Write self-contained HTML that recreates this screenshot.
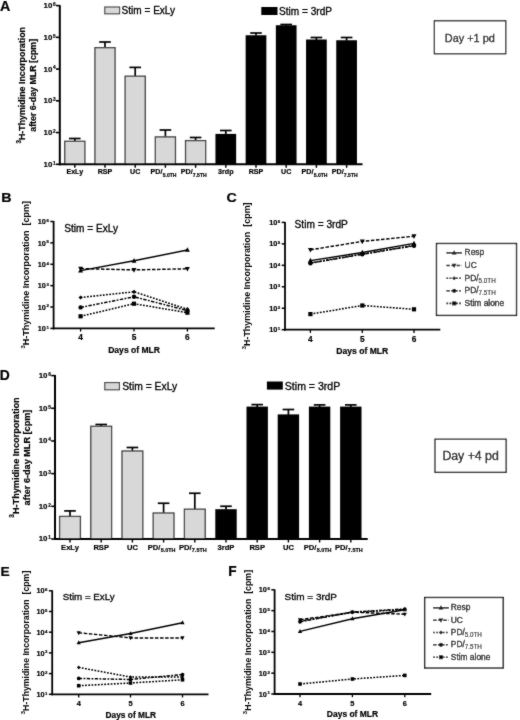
<!DOCTYPE html><html><head><meta charset="utf-8"><style>html,body{margin:0;padding:0;background:#fff;}svg{display:block;filter:grayscale(1);}text{font-family:"Liberation Sans",sans-serif;}</style></head><body>
<svg width="520" height="720" viewBox="0 0 520 720">
<defs><filter id="bl" x="0" y="0" width="520" height="720" filterUnits="userSpaceOnUse"><feConvolveMatrix order="3" kernelMatrix="1 2 1 2 24 2 1 2 1" edgeMode="duplicate"/></filter></defs>
<rect width="520" height="720" fill="#fff"/>
<g filter="url(#bl)">
<text x="0.1" y="10.8" font-size="14.8" font-weight="bold" stroke="#000" stroke-width="0.2" textLength="10.3" lengthAdjust="spacingAndGlyphs" fill="#000">A</text>
<line x1="59.8" y1="5.1" x2="59.8" y2="165.3" stroke="#000" stroke-width="2"/>
<line x1="56" y1="164.3" x2="59.8" y2="164.3" stroke="#000" stroke-width="1.6"/>
<text x="52.3" y="166.75" font-size="7.9" font-weight="bold" stroke="#000" stroke-width="0.2" text-anchor="end" fill="#000">10</text>
<text x="55.7" y="164.7" font-size="4.74" font-weight="bold" stroke="#000" stroke-width="0.2" text-anchor="end" fill="#000">1</text>
<line x1="56" y1="132.56" x2="59.8" y2="132.56" stroke="#000" stroke-width="1.6"/>
<text x="52.3" y="135.01" font-size="7.9" font-weight="bold" stroke="#000" stroke-width="0.2" text-anchor="end" fill="#000">10</text>
<text x="55.7" y="132.96" font-size="4.74" font-weight="bold" stroke="#000" stroke-width="0.2" text-anchor="end" fill="#000">2</text>
<line x1="56" y1="100.82" x2="59.8" y2="100.82" stroke="#000" stroke-width="1.6"/>
<text x="52.3" y="103.27" font-size="7.9" font-weight="bold" stroke="#000" stroke-width="0.2" text-anchor="end" fill="#000">10</text>
<text x="55.7" y="101.22" font-size="4.74" font-weight="bold" stroke="#000" stroke-width="0.2" text-anchor="end" fill="#000">3</text>
<line x1="56" y1="69.08" x2="59.8" y2="69.08" stroke="#000" stroke-width="1.6"/>
<text x="52.3" y="71.53" font-size="7.9" font-weight="bold" stroke="#000" stroke-width="0.2" text-anchor="end" fill="#000">10</text>
<text x="55.7" y="69.48" font-size="4.74" font-weight="bold" stroke="#000" stroke-width="0.2" text-anchor="end" fill="#000">4</text>
<line x1="56" y1="37.34" x2="59.8" y2="37.34" stroke="#000" stroke-width="1.6"/>
<text x="52.3" y="39.79" font-size="7.9" font-weight="bold" stroke="#000" stroke-width="0.2" text-anchor="end" fill="#000">10</text>
<text x="55.7" y="37.74" font-size="4.74" font-weight="bold" stroke="#000" stroke-width="0.2" text-anchor="end" fill="#000">5</text>
<line x1="56" y1="5.6" x2="59.8" y2="5.6" stroke="#000" stroke-width="1.6"/>
<text x="52.3" y="8.05" font-size="7.9" font-weight="bold" stroke="#000" stroke-width="0.2" text-anchor="end" fill="#000">10</text>
<text x="55.7" y="6" font-size="4.74" font-weight="bold" stroke="#000" stroke-width="0.2" text-anchor="end" fill="#000">6</text>
<line x1="74.8" y1="141.3" x2="74.8" y2="138.5" stroke="#000" stroke-width="1.7"/>
<line x1="69" y1="138.5" x2="80.6" y2="138.5" stroke="#000" stroke-width="1.7"/>
<rect x="64.75" y="141.3" width="20.1" height="23" fill="#d8d8d8" stroke="#3a3a3a" stroke-width="1.3"/>
<line x1="74.8" y1="164.3" x2="74.8" y2="167.8" stroke="#000" stroke-width="1.4"/>
<line x1="105" y1="47.7" x2="105" y2="42" stroke="#000" stroke-width="1.7"/>
<line x1="99.2" y1="42" x2="110.8" y2="42" stroke="#000" stroke-width="1.7"/>
<rect x="94.95" y="47.7" width="20.1" height="116.6" fill="#d8d8d8" stroke="#3a3a3a" stroke-width="1.3"/>
<line x1="105" y1="164.3" x2="105" y2="167.8" stroke="#000" stroke-width="1.4"/>
<line x1="135.2" y1="76.2" x2="135.2" y2="67.4" stroke="#000" stroke-width="1.7"/>
<line x1="129.4" y1="67.4" x2="141" y2="67.4" stroke="#000" stroke-width="1.7"/>
<rect x="125.15" y="76.2" width="20.1" height="88.1" fill="#d8d8d8" stroke="#3a3a3a" stroke-width="1.3"/>
<line x1="135.2" y1="164.3" x2="135.2" y2="167.8" stroke="#000" stroke-width="1.4"/>
<line x1="165.4" y1="136.9" x2="165.4" y2="130" stroke="#000" stroke-width="1.7"/>
<line x1="159.6" y1="130" x2="171.2" y2="130" stroke="#000" stroke-width="1.7"/>
<rect x="155.35" y="136.9" width="20.1" height="27.4" fill="#d8d8d8" stroke="#3a3a3a" stroke-width="1.3"/>
<line x1="165.4" y1="164.3" x2="165.4" y2="167.8" stroke="#000" stroke-width="1.4"/>
<line x1="195.6" y1="140.6" x2="195.6" y2="137.5" stroke="#000" stroke-width="1.7"/>
<line x1="189.8" y1="137.5" x2="201.4" y2="137.5" stroke="#000" stroke-width="1.7"/>
<rect x="185.55" y="140.6" width="20.1" height="23.7" fill="#d8d8d8" stroke="#3a3a3a" stroke-width="1.3"/>
<line x1="195.6" y1="164.3" x2="195.6" y2="167.8" stroke="#000" stroke-width="1.4"/>
<line x1="225.8" y1="134.4" x2="225.8" y2="130.5" stroke="#000" stroke-width="1.7"/>
<line x1="220" y1="130.5" x2="231.6" y2="130.5" stroke="#000" stroke-width="1.7"/>
<rect x="215.45" y="133.9" width="20.7" height="30.4" fill="#000"/>
<line x1="225.8" y1="164.3" x2="225.8" y2="167.8" stroke="#000" stroke-width="1.4"/>
<line x1="256" y1="35.75" x2="256" y2="33" stroke="#000" stroke-width="1.7"/>
<line x1="250.2" y1="33" x2="261.8" y2="33" stroke="#000" stroke-width="1.7"/>
<rect x="245.65" y="35.25" width="20.7" height="129.05" fill="#000"/>
<line x1="256" y1="164.3" x2="256" y2="167.8" stroke="#000" stroke-width="1.4"/>
<line x1="286.2" y1="25.75" x2="286.2" y2="24.5" stroke="#000" stroke-width="1.7"/>
<line x1="280.4" y1="24.5" x2="292" y2="24.5" stroke="#000" stroke-width="1.7"/>
<rect x="275.85" y="25.25" width="20.7" height="139.05" fill="#000"/>
<line x1="286.2" y1="164.3" x2="286.2" y2="167.8" stroke="#000" stroke-width="1.4"/>
<line x1="316.4" y1="40" x2="316.4" y2="37.5" stroke="#000" stroke-width="1.7"/>
<line x1="310.6" y1="37.5" x2="322.2" y2="37.5" stroke="#000" stroke-width="1.7"/>
<rect x="306.05" y="39.5" width="20.7" height="124.8" fill="#000"/>
<line x1="316.4" y1="164.3" x2="316.4" y2="167.8" stroke="#000" stroke-width="1.4"/>
<line x1="346.6" y1="40.75" x2="346.6" y2="37.5" stroke="#000" stroke-width="1.7"/>
<line x1="340.8" y1="37.5" x2="352.4" y2="37.5" stroke="#000" stroke-width="1.7"/>
<rect x="336.25" y="40.25" width="20.7" height="124.05" fill="#000"/>
<line x1="346.6" y1="164.3" x2="346.6" y2="167.8" stroke="#000" stroke-width="1.4"/>
<line x1="58.8" y1="164.3" x2="362.5" y2="164.3" stroke="#000" stroke-width="2"/>
<text x="74.8" y="174.3" font-size="7.1" font-weight="bold" stroke="#000" stroke-width="0.2" text-anchor="middle" fill="#000">ExLy</text>
<text x="105" y="174.3" font-size="7.1" font-weight="bold" stroke="#000" stroke-width="0.2" text-anchor="middle" fill="#000">RSP</text>
<text x="135.2" y="174.3" font-size="7.1" font-weight="bold" stroke="#000" stroke-width="0.2" text-anchor="middle" fill="#000">UC</text>
<text x="150.59" y="174.3" font-size="7.1" font-weight="bold" stroke="#000" stroke-width="0.2" fill="#000">PD/</text>
<text x="162.66" y="176.63" font-size="5.07" font-weight="bold" stroke="#000" stroke-width="0.2" fill="#000">5.0TH</text>
<text x="180.79" y="174.3" font-size="7.1" font-weight="bold" stroke="#000" stroke-width="0.2" fill="#000">PD/</text>
<text x="192.86" y="176.63" font-size="5.07" font-weight="bold" stroke="#000" stroke-width="0.2" fill="#000">7.5TH</text>
<text x="225.8" y="174.3" font-size="7.1" font-weight="bold" stroke="#000" stroke-width="0.2" text-anchor="middle" fill="#000">3rdp</text>
<text x="256" y="174.3" font-size="7.1" font-weight="bold" stroke="#000" stroke-width="0.2" text-anchor="middle" fill="#000">RSP</text>
<text x="286.2" y="174.3" font-size="7.1" font-weight="bold" stroke="#000" stroke-width="0.2" text-anchor="middle" fill="#000">UC</text>
<text x="301.59" y="174.3" font-size="7.1" font-weight="bold" stroke="#000" stroke-width="0.2" fill="#000">PD/</text>
<text x="313.66" y="176.63" font-size="5.07" font-weight="bold" stroke="#000" stroke-width="0.2" fill="#000">5.0TH</text>
<text x="331.79" y="174.3" font-size="7.1" font-weight="bold" stroke="#000" stroke-width="0.2" fill="#000">PD/</text>
<text x="343.86" y="176.63" font-size="5.07" font-weight="bold" stroke="#000" stroke-width="0.2" fill="#000">7.5TH</text>
<rect x="104.8" y="7" width="14.8" height="6.8" fill="#d8d8d8" stroke="#3a3a3a" stroke-width="1.1"/>
<text x="121.6" y="14.1" font-size="10" stroke="#000" stroke-width="0.3" textLength="53.5" lengthAdjust="spacingAndGlyphs" fill="#000">Stim = ExLy</text>
<rect x="261.3" y="7" width="16.2" height="8" fill="#000"/>
<text x="279" y="14.6" font-size="10" stroke="#000" stroke-width="0.3" textLength="53" lengthAdjust="spacingAndGlyphs" fill="#000">Stim = 3rdP</text>
<text transform="translate(25.3,143.6) rotate(-90)" font-size="9" font-weight="bold" stroke="#000" stroke-width="0.2" textLength="116.6" lengthAdjust="spacingAndGlyphs"><tspan font-size="6.4" dy="-4.4">3</tspan><tspan dy="4.4">H-Thymidine Incorporation</tspan></text>
<text transform="translate(35.6,131.8) rotate(-90)" font-size="9" font-weight="bold" stroke="#000" stroke-width="0.2" textLength="93" lengthAdjust="spacingAndGlyphs">after 6-day MLR [cpm]</text>
<rect x="434.4" y="20.8" width="71.3" height="32.9" fill="#fff" stroke="#111" stroke-width="1.25"/>
<text x="444.8" y="41.5" font-size="11.2" stroke="#000" stroke-width="0.3" textLength="50" lengthAdjust="spacingAndGlyphs" fill="#000">Day +1 pd</text>
<text x="1.2" y="201.8" font-size="13.7" font-weight="bold" stroke="#000" stroke-width="0.2" textLength="10.3" lengthAdjust="spacingAndGlyphs" fill="#000">B</text>
<line x1="53.6" y1="221" x2="53.6" y2="329.4" stroke="#000" stroke-width="1.8"/>
<line x1="52.7" y1="328.4" x2="214.7" y2="328.4" stroke="#000" stroke-width="1.8"/>
<line x1="50.3" y1="328.4" x2="53.6" y2="328.4" stroke="#000" stroke-width="1.5"/>
<text x="45.9" y="331.03" font-size="7.3" font-weight="bold" stroke="#000" stroke-width="0.2" text-anchor="end" fill="#000">10</text>
<text x="48.9" y="328.8" font-size="4.38" font-weight="bold" stroke="#000" stroke-width="0.2" text-anchor="end" fill="#000">1</text>
<line x1="50.3" y1="307.02" x2="53.6" y2="307.02" stroke="#000" stroke-width="1.5"/>
<text x="45.9" y="309.65" font-size="7.3" font-weight="bold" stroke="#000" stroke-width="0.2" text-anchor="end" fill="#000">10</text>
<text x="48.9" y="307.42" font-size="4.38" font-weight="bold" stroke="#000" stroke-width="0.2" text-anchor="end" fill="#000">2</text>
<line x1="50.3" y1="285.64" x2="53.6" y2="285.64" stroke="#000" stroke-width="1.5"/>
<text x="45.9" y="288.27" font-size="7.3" font-weight="bold" stroke="#000" stroke-width="0.2" text-anchor="end" fill="#000">10</text>
<text x="48.9" y="286.04" font-size="4.38" font-weight="bold" stroke="#000" stroke-width="0.2" text-anchor="end" fill="#000">3</text>
<line x1="50.3" y1="264.26" x2="53.6" y2="264.26" stroke="#000" stroke-width="1.5"/>
<text x="45.9" y="266.89" font-size="7.3" font-weight="bold" stroke="#000" stroke-width="0.2" text-anchor="end" fill="#000">10</text>
<text x="48.9" y="264.66" font-size="4.38" font-weight="bold" stroke="#000" stroke-width="0.2" text-anchor="end" fill="#000">4</text>
<line x1="50.3" y1="242.88" x2="53.6" y2="242.88" stroke="#000" stroke-width="1.5"/>
<text x="45.9" y="245.51" font-size="7.3" font-weight="bold" stroke="#000" stroke-width="0.2" text-anchor="end" fill="#000">10</text>
<text x="48.9" y="243.28" font-size="4.38" font-weight="bold" stroke="#000" stroke-width="0.2" text-anchor="end" fill="#000">5</text>
<line x1="50.3" y1="221.5" x2="53.6" y2="221.5" stroke="#000" stroke-width="1.5"/>
<text x="45.9" y="224.13" font-size="7.3" font-weight="bold" stroke="#000" stroke-width="0.2" text-anchor="end" fill="#000">10</text>
<text x="48.9" y="221.9" font-size="4.38" font-weight="bold" stroke="#000" stroke-width="0.2" text-anchor="end" fill="#000">6</text>
<line x1="80.6" y1="328.4" x2="80.6" y2="331.6" stroke="#000" stroke-width="1.3"/>
<text x="80.6" y="339.7" font-size="8.3" font-weight="bold" stroke="#000" stroke-width="0.2" text-anchor="middle" fill="#000">4</text>
<line x1="134" y1="328.4" x2="134" y2="331.6" stroke="#000" stroke-width="1.3"/>
<text x="134" y="339.7" font-size="8.3" font-weight="bold" stroke="#000" stroke-width="0.2" text-anchor="middle" fill="#000">5</text>
<line x1="187.4" y1="328.4" x2="187.4" y2="331.6" stroke="#000" stroke-width="1.3"/>
<text x="187.4" y="339.7" font-size="8.3" font-weight="bold" stroke="#000" stroke-width="0.2" text-anchor="middle" fill="#000">6</text>
<text x="134.1" y="352.8" font-size="8.6" font-weight="bold" stroke="#000" stroke-width="0.2" text-anchor="middle" textLength="51.8" lengthAdjust="spacingAndGlyphs" fill="#000">Days of MLR</text>
<polyline points="80.6,270.6 134,260.8 187.4,250" fill="none" stroke="#000" stroke-width="1.45"/>
<polyline points="80.6,268.6 134,269.9 187.4,268.8" fill="none" stroke="#000" stroke-width="1.45" stroke-dasharray="3.5,1.6"/>
<polyline points="80.6,297.5 134,291.8 187.4,309.2" fill="none" stroke="#000" stroke-width="1.55" stroke-dasharray="1.8,1.4"/>
<polyline points="80.6,307.4 134,296.8 187.4,310.6" fill="none" stroke="#000" stroke-width="1.5" stroke-dasharray="3.4,1.4,1.8,1.4"/>
<polyline points="80.6,316.3 134,303.7 187.4,312.7" fill="none" stroke="#000" stroke-width="1.55" stroke-dasharray="1.8,1.4"/>
<rect x="78.5" y="314.2" width="4.2" height="4.2" fill="#000"/>
<rect x="131.9" y="301.6" width="4.2" height="4.2" fill="#000"/>
<rect x="185.3" y="310.6" width="4.2" height="4.2" fill="#000"/>
<circle cx="80.6" cy="307.4" r="2.2" fill="#000"/>
<circle cx="134" cy="296.8" r="2.2" fill="#000"/>
<circle cx="187.4" cy="310.6" r="2.2" fill="#000"/>
<polygon points="80.6,295.4 82.7,297.5 80.6,299.6 78.5,297.5" fill="#000"/>
<polygon points="134,289.7 136.1,291.8 134,293.9 131.9,291.8" fill="#000"/>
<polygon points="187.4,307.1 189.5,309.2 187.4,311.3 185.3,309.2" fill="#000"/>
<polygon points="80.6,271.36 83.05,266.76 78.15,266.76" fill="#000"/>
<polygon points="134,272.66 136.45,268.06 131.55,268.06" fill="#000"/>
<polygon points="187.4,271.56 189.85,266.96 184.95,266.96" fill="#000"/>
<polygon points="80.6,267.84 83.05,272.44 78.15,272.44" fill="#000"/>
<polygon points="134,258.04 136.45,262.64 131.55,262.64" fill="#000"/>
<polygon points="187.4,247.24 189.85,251.84 184.95,251.84" fill="#000"/>
<text x="64.2" y="231.6" font-size="10" stroke="#000" stroke-width="0.3" textLength="53.8" lengthAdjust="spacingAndGlyphs" fill="#000">Stim = ExLy</text>
<text transform="translate(29.3,348.8) rotate(-90)" font-size="8.4" font-weight="bold" textLength="147.8" lengthAdjust="spacingAndGlyphs"><tspan font-size="6.0" dy="-4.0">3</tspan><tspan dy="4.0">H-Thymidine Incorporation&#160; [cpm]</tspan></text>
<text x="226.6" y="202.2" font-size="13.7" font-weight="bold" stroke="#000" stroke-width="0.2" textLength="10.3" lengthAdjust="spacingAndGlyphs" fill="#000">C</text>
<line x1="285" y1="221.9" x2="285" y2="330.7" stroke="#000" stroke-width="1.8"/>
<line x1="284.1" y1="329.7" x2="440.3" y2="329.7" stroke="#000" stroke-width="1.8"/>
<line x1="281.7" y1="329.7" x2="285" y2="329.7" stroke="#000" stroke-width="1.5"/>
<text x="277.3" y="332.33" font-size="7.3" font-weight="bold" stroke="#000" stroke-width="0.2" text-anchor="end" fill="#000">10</text>
<text x="280.3" y="330.1" font-size="4.38" font-weight="bold" stroke="#000" stroke-width="0.2" text-anchor="end" fill="#000">1</text>
<line x1="281.7" y1="308.24" x2="285" y2="308.24" stroke="#000" stroke-width="1.5"/>
<text x="277.3" y="310.87" font-size="7.3" font-weight="bold" stroke="#000" stroke-width="0.2" text-anchor="end" fill="#000">10</text>
<text x="280.3" y="308.64" font-size="4.38" font-weight="bold" stroke="#000" stroke-width="0.2" text-anchor="end" fill="#000">2</text>
<line x1="281.7" y1="286.78" x2="285" y2="286.78" stroke="#000" stroke-width="1.5"/>
<text x="277.3" y="289.41" font-size="7.3" font-weight="bold" stroke="#000" stroke-width="0.2" text-anchor="end" fill="#000">10</text>
<text x="280.3" y="287.18" font-size="4.38" font-weight="bold" stroke="#000" stroke-width="0.2" text-anchor="end" fill="#000">3</text>
<line x1="281.7" y1="265.32" x2="285" y2="265.32" stroke="#000" stroke-width="1.5"/>
<text x="277.3" y="267.95" font-size="7.3" font-weight="bold" stroke="#000" stroke-width="0.2" text-anchor="end" fill="#000">10</text>
<text x="280.3" y="265.72" font-size="4.38" font-weight="bold" stroke="#000" stroke-width="0.2" text-anchor="end" fill="#000">4</text>
<line x1="281.7" y1="243.86" x2="285" y2="243.86" stroke="#000" stroke-width="1.5"/>
<text x="277.3" y="246.49" font-size="7.3" font-weight="bold" stroke="#000" stroke-width="0.2" text-anchor="end" fill="#000">10</text>
<text x="280.3" y="244.26" font-size="4.38" font-weight="bold" stroke="#000" stroke-width="0.2" text-anchor="end" fill="#000">5</text>
<line x1="281.7" y1="222.4" x2="285" y2="222.4" stroke="#000" stroke-width="1.5"/>
<text x="277.3" y="225.03" font-size="7.3" font-weight="bold" stroke="#000" stroke-width="0.2" text-anchor="end" fill="#000">10</text>
<text x="280.3" y="222.8" font-size="4.38" font-weight="bold" stroke="#000" stroke-width="0.2" text-anchor="end" fill="#000">6</text>
<line x1="310.4" y1="329.7" x2="310.4" y2="332.9" stroke="#000" stroke-width="1.3"/>
<text x="310.4" y="341.5" font-size="8.3" font-weight="bold" stroke="#000" stroke-width="0.2" text-anchor="middle" fill="#000">4</text>
<line x1="362.3" y1="329.7" x2="362.3" y2="332.9" stroke="#000" stroke-width="1.3"/>
<text x="362.3" y="341.5" font-size="8.3" font-weight="bold" stroke="#000" stroke-width="0.2" text-anchor="middle" fill="#000">5</text>
<line x1="414" y1="329.7" x2="414" y2="332.9" stroke="#000" stroke-width="1.3"/>
<text x="414" y="341.5" font-size="8.3" font-weight="bold" stroke="#000" stroke-width="0.2" text-anchor="middle" fill="#000">6</text>
<text x="362.3" y="354" font-size="8.6" font-weight="bold" stroke="#000" stroke-width="0.2" text-anchor="middle" fill="#000">Days of MLR</text>
<polyline points="310.4,260.6 362.3,252.5 414,243.4" fill="none" stroke="#000" stroke-width="1.45"/>
<polyline points="310.4,249.8 362.3,241.4 414,236.2" fill="none" stroke="#000" stroke-width="1.45" stroke-dasharray="3.5,1.6"/>
<polyline points="310.4,262.8 362.3,254 414,245.4" fill="none" stroke="#000" stroke-width="1.55" stroke-dasharray="1.8,1.4"/>
<polyline points="310.4,263.2 362.3,254.3 414,245.8" fill="none" stroke="#000" stroke-width="1.5" stroke-dasharray="3.4,1.4,1.8,1.4"/>
<polyline points="310.4,314.1 362.3,305.5 414,309.3" fill="none" stroke="#000" stroke-width="1.55" stroke-dasharray="1.8,1.4"/>
<rect x="308.3" y="312" width="4.2" height="4.2" fill="#000"/>
<rect x="360.2" y="303.4" width="4.2" height="4.2" fill="#000"/>
<rect x="411.9" y="307.2" width="4.2" height="4.2" fill="#000"/>
<circle cx="310.4" cy="263.2" r="2.2" fill="#000"/>
<circle cx="362.3" cy="254.3" r="2.2" fill="#000"/>
<circle cx="414" cy="245.8" r="2.2" fill="#000"/>
<polygon points="310.4,260.7 312.5,262.8 310.4,264.9 308.3,262.8" fill="#000"/>
<polygon points="362.3,251.9 364.4,254 362.3,256.1 360.2,254" fill="#000"/>
<polygon points="414,243.3 416.1,245.4 414,247.5 411.9,245.4" fill="#000"/>
<polygon points="310.4,252.56 312.85,247.96 307.95,247.96" fill="#000"/>
<polygon points="362.3,244.16 364.75,239.56 359.85,239.56" fill="#000"/>
<polygon points="414,238.96 416.45,234.36 411.55,234.36" fill="#000"/>
<polygon points="310.4,257.84 312.85,262.44 307.95,262.44" fill="#000"/>
<polygon points="362.3,249.74 364.75,254.34 359.85,254.34" fill="#000"/>
<polygon points="414,240.64 416.45,245.24 411.55,245.24" fill="#000"/>
<text x="294.6" y="227.8" font-size="10" stroke="#000" stroke-width="0.3" textLength="53.3" lengthAdjust="spacingAndGlyphs" fill="#000">Stim = 3rdP</text>
<text transform="translate(250.4,349.6) rotate(-90)" font-size="8.4" font-weight="bold" textLength="147.2" lengthAdjust="spacingAndGlyphs"><tspan font-size="6.0" dy="-4.0">3</tspan><tspan dy="4.0">H-Thymidine Incorporation&#160; [cpm]</tspan></text>
<rect x="436.5" y="243.5" width="80" height="71.9" fill="#fff" stroke="#000" stroke-width="1.3"/>
<line x1="446.4" y1="252.8" x2="462" y2="252.8" stroke="#000" stroke-width="1.55"/>
<polygon points="454.2,250.18 456.53,254.55 451.87,254.55" fill="#000"/>
<text x="464.6" y="255.3" font-size="8.4" stroke="#000" stroke-width="0.3" fill="#000">Resp</text>
<line x1="446.4" y1="265.5" x2="462" y2="265.5" stroke="#000" stroke-width="1.55" stroke-dasharray="3.5,1.6"/>
<polygon points="454.2,268.12 456.53,263.75 451.87,263.75" fill="#000"/>
<text x="464.6" y="268" font-size="8.4" stroke="#000" stroke-width="0.3" fill="#000">UC</text>
<line x1="446.4" y1="278.2" x2="462" y2="278.2" stroke="#000" stroke-width="1.65" stroke-dasharray="1.8,1.4"/>
<polygon points="454.2,276.2 456.19,278.2 454.2,280.19 452.2,278.2" fill="#000"/>
<text x="464.6" y="280.7" font-size="8.4" stroke="#000" stroke-width="0.3" fill="#000">PD/<tspan font-size="6.3" dy="2.1" stroke-width="0.1">5.0TH</tspan></text>
<line x1="446.4" y1="290.8" x2="462" y2="290.8" stroke="#000" stroke-width="1.6" stroke-dasharray="3.4,1.4,1.8,1.4"/>
<circle cx="454.2" cy="290.8" r="2.09" fill="#000"/>
<text x="464.6" y="293.3" font-size="8.4" stroke="#000" stroke-width="0.3" fill="#000">PD/<tspan font-size="6.3" dy="2.1" stroke-width="0.1">7.5TH</tspan></text>
<line x1="446.4" y1="303.4" x2="462" y2="303.4" stroke="#000" stroke-width="1.65" stroke-dasharray="1.8,1.4"/>
<rect x="452.2" y="301.4" width="3.99" height="3.99" fill="#000"/>
<text x="464.6" y="305.9" font-size="8.4" stroke="#000" stroke-width="0.3" fill="#000">Stim alone</text>
<text x="-0.2" y="379.6" font-size="13.9" font-weight="bold" stroke="#000" stroke-width="0.2" textLength="10" lengthAdjust="spacingAndGlyphs" fill="#000">D</text>
<line x1="55" y1="375.1" x2="55" y2="540" stroke="#000" stroke-width="2"/>
<line x1="51.2" y1="539" x2="55" y2="539" stroke="#000" stroke-width="1.6"/>
<text x="47.5" y="541.45" font-size="7.9" font-weight="bold" stroke="#000" stroke-width="0.2" text-anchor="end" fill="#000">10</text>
<text x="50.9" y="539.4" font-size="4.74" font-weight="bold" stroke="#000" stroke-width="0.2" text-anchor="end" fill="#000">1</text>
<line x1="51.2" y1="506.32" x2="55" y2="506.32" stroke="#000" stroke-width="1.6"/>
<text x="47.5" y="508.77" font-size="7.9" font-weight="bold" stroke="#000" stroke-width="0.2" text-anchor="end" fill="#000">10</text>
<text x="50.9" y="506.72" font-size="4.74" font-weight="bold" stroke="#000" stroke-width="0.2" text-anchor="end" fill="#000">2</text>
<line x1="51.2" y1="473.64" x2="55" y2="473.64" stroke="#000" stroke-width="1.6"/>
<text x="47.5" y="476.09" font-size="7.9" font-weight="bold" stroke="#000" stroke-width="0.2" text-anchor="end" fill="#000">10</text>
<text x="50.9" y="474.04" font-size="4.74" font-weight="bold" stroke="#000" stroke-width="0.2" text-anchor="end" fill="#000">3</text>
<line x1="51.2" y1="440.96" x2="55" y2="440.96" stroke="#000" stroke-width="1.6"/>
<text x="47.5" y="443.41" font-size="7.9" font-weight="bold" stroke="#000" stroke-width="0.2" text-anchor="end" fill="#000">10</text>
<text x="50.9" y="441.36" font-size="4.74" font-weight="bold" stroke="#000" stroke-width="0.2" text-anchor="end" fill="#000">4</text>
<line x1="51.2" y1="408.28" x2="55" y2="408.28" stroke="#000" stroke-width="1.6"/>
<text x="47.5" y="410.73" font-size="7.9" font-weight="bold" stroke="#000" stroke-width="0.2" text-anchor="end" fill="#000">10</text>
<text x="50.9" y="408.68" font-size="4.74" font-weight="bold" stroke="#000" stroke-width="0.2" text-anchor="end" fill="#000">5</text>
<line x1="51.2" y1="375.6" x2="55" y2="375.6" stroke="#000" stroke-width="1.6"/>
<text x="47.5" y="378.05" font-size="7.9" font-weight="bold" stroke="#000" stroke-width="0.2" text-anchor="end" fill="#000">10</text>
<text x="50.9" y="376" font-size="4.74" font-weight="bold" stroke="#000" stroke-width="0.2" text-anchor="end" fill="#000">6</text>
<line x1="70" y1="516.4" x2="70" y2="510.9" stroke="#000" stroke-width="1.7"/>
<line x1="64.2" y1="510.9" x2="75.8" y2="510.9" stroke="#000" stroke-width="1.7"/>
<rect x="59.6" y="516.4" width="20.8" height="22.6" fill="#d8d8d8" stroke="#3a3a3a" stroke-width="1.3"/>
<line x1="70" y1="539" x2="70" y2="542.5" stroke="#000" stroke-width="1.4"/>
<line x1="101.2" y1="426.3" x2="101.2" y2="424.5" stroke="#000" stroke-width="1.7"/>
<line x1="95.4" y1="424.5" x2="107" y2="424.5" stroke="#000" stroke-width="1.7"/>
<rect x="90.8" y="426.3" width="20.8" height="112.7" fill="#d8d8d8" stroke="#3a3a3a" stroke-width="1.3"/>
<line x1="101.2" y1="539" x2="101.2" y2="542.5" stroke="#000" stroke-width="1.4"/>
<line x1="132.4" y1="451" x2="132.4" y2="447.5" stroke="#000" stroke-width="1.7"/>
<line x1="126.6" y1="447.5" x2="138.2" y2="447.5" stroke="#000" stroke-width="1.7"/>
<rect x="122" y="451" width="20.8" height="88" fill="#d8d8d8" stroke="#3a3a3a" stroke-width="1.3"/>
<line x1="132.4" y1="539" x2="132.4" y2="542.5" stroke="#000" stroke-width="1.4"/>
<line x1="163.6" y1="513" x2="163.6" y2="503.25" stroke="#000" stroke-width="1.7"/>
<line x1="157.8" y1="503.25" x2="169.4" y2="503.25" stroke="#000" stroke-width="1.7"/>
<rect x="153.2" y="513" width="20.8" height="26" fill="#d8d8d8" stroke="#3a3a3a" stroke-width="1.3"/>
<line x1="163.6" y1="539" x2="163.6" y2="542.5" stroke="#000" stroke-width="1.4"/>
<line x1="194.8" y1="509.2" x2="194.8" y2="493.25" stroke="#000" stroke-width="1.7"/>
<line x1="189" y1="493.25" x2="200.6" y2="493.25" stroke="#000" stroke-width="1.7"/>
<rect x="184.4" y="509.2" width="20.8" height="29.8" fill="#d8d8d8" stroke="#3a3a3a" stroke-width="1.3"/>
<line x1="194.8" y1="539" x2="194.8" y2="542.5" stroke="#000" stroke-width="1.4"/>
<line x1="226" y1="509.7" x2="226" y2="506.25" stroke="#000" stroke-width="1.7"/>
<line x1="220.2" y1="506.25" x2="231.8" y2="506.25" stroke="#000" stroke-width="1.7"/>
<rect x="215.3" y="509.2" width="21.4" height="29.8" fill="#000"/>
<line x1="226" y1="539" x2="226" y2="542.5" stroke="#000" stroke-width="1.4"/>
<line x1="257.2" y1="407.1" x2="257.2" y2="404.6" stroke="#000" stroke-width="1.7"/>
<line x1="251.4" y1="404.6" x2="263" y2="404.6" stroke="#000" stroke-width="1.7"/>
<rect x="246.5" y="406.6" width="21.4" height="132.4" fill="#000"/>
<line x1="257.2" y1="539" x2="257.2" y2="542.5" stroke="#000" stroke-width="1.4"/>
<line x1="288.4" y1="414.9" x2="288.4" y2="409.5" stroke="#000" stroke-width="1.7"/>
<line x1="282.6" y1="409.5" x2="294.2" y2="409.5" stroke="#000" stroke-width="1.7"/>
<rect x="277.7" y="414.4" width="21.4" height="124.6" fill="#000"/>
<line x1="288.4" y1="539" x2="288.4" y2="542.5" stroke="#000" stroke-width="1.4"/>
<line x1="319.6" y1="407.1" x2="319.6" y2="404.9" stroke="#000" stroke-width="1.7"/>
<line x1="313.8" y1="404.9" x2="325.4" y2="404.9" stroke="#000" stroke-width="1.7"/>
<rect x="308.9" y="406.6" width="21.4" height="132.4" fill="#000"/>
<line x1="319.6" y1="539" x2="319.6" y2="542.5" stroke="#000" stroke-width="1.4"/>
<line x1="350.8" y1="407.1" x2="350.8" y2="404.9" stroke="#000" stroke-width="1.7"/>
<line x1="345" y1="404.9" x2="356.6" y2="404.9" stroke="#000" stroke-width="1.7"/>
<rect x="340.1" y="406.6" width="21.4" height="132.4" fill="#000"/>
<line x1="350.8" y1="539" x2="350.8" y2="542.5" stroke="#000" stroke-width="1.4"/>
<line x1="54" y1="539" x2="367.7" y2="539" stroke="#000" stroke-width="2"/>
<text x="70" y="549.9" font-size="7.6" font-weight="bold" stroke="#000" stroke-width="0.2" text-anchor="middle" fill="#000">ExLy</text>
<text x="101.2" y="549.9" font-size="7.6" font-weight="bold" stroke="#000" stroke-width="0.2" text-anchor="middle" fill="#000">RSP</text>
<text x="132.4" y="549.9" font-size="7.6" font-weight="bold" stroke="#000" stroke-width="0.2" text-anchor="middle" fill="#000">UC</text>
<text x="147.75" y="549.9" font-size="7.6" font-weight="bold" stroke="#000" stroke-width="0.2" fill="#000">PD/</text>
<text x="160.67" y="552.4" font-size="5.43" font-weight="bold" stroke="#000" stroke-width="0.2" fill="#000">5.0TH</text>
<text x="178.95" y="549.9" font-size="7.6" font-weight="bold" stroke="#000" stroke-width="0.2" fill="#000">PD/</text>
<text x="191.87" y="552.4" font-size="5.43" font-weight="bold" stroke="#000" stroke-width="0.2" fill="#000">7.5TH</text>
<text x="226" y="549.9" font-size="7.6" font-weight="bold" stroke="#000" stroke-width="0.2" text-anchor="middle" fill="#000">3rdP</text>
<text x="257.2" y="549.9" font-size="7.6" font-weight="bold" stroke="#000" stroke-width="0.2" text-anchor="middle" fill="#000">RSP</text>
<text x="288.4" y="549.9" font-size="7.6" font-weight="bold" stroke="#000" stroke-width="0.2" text-anchor="middle" fill="#000">UC</text>
<text x="303.75" y="549.9" font-size="7.6" font-weight="bold" stroke="#000" stroke-width="0.2" fill="#000">PD/</text>
<text x="316.67" y="552.4" font-size="5.43" font-weight="bold" stroke="#000" stroke-width="0.2" fill="#000">5.0TH</text>
<text x="334.95" y="549.9" font-size="7.6" font-weight="bold" stroke="#000" stroke-width="0.2" fill="#000">PD/</text>
<text x="347.87" y="552.4" font-size="5.43" font-weight="bold" stroke="#000" stroke-width="0.2" fill="#000">7.5TH</text>
<rect x="104.8" y="382.6" width="14.6" height="7.2" fill="#d8d8d8" stroke="#3a3a3a" stroke-width="1.1"/>
<text x="122.2" y="390.2" font-size="10" stroke="#000" stroke-width="0.3" textLength="55" lengthAdjust="spacingAndGlyphs" fill="#000">Stim = ExLy</text>
<rect x="266.9" y="381.5" width="15.9" height="8.1" fill="#000"/>
<text x="284.8" y="389.8" font-size="10" stroke="#000" stroke-width="0.3" textLength="55.5" lengthAdjust="spacingAndGlyphs" fill="#000">Stim = 3rdP</text>
<text transform="translate(18.8,517.7) rotate(-90)" font-size="9" font-weight="bold" stroke="#000" stroke-width="0.2" textLength="120.4" lengthAdjust="spacingAndGlyphs"><tspan font-size="6.4" dy="-4.4">3</tspan><tspan dy="4.4">H-Thymidine Incorporation</tspan></text>
<text transform="translate(29.6,505.4) rotate(-90)" font-size="9" font-weight="bold" stroke="#000" stroke-width="0.2" textLength="95.8" lengthAdjust="spacingAndGlyphs">after 6-day MLR [cpm]</text>
<rect x="435" y="439.2" width="71.1" height="33.1" fill="#fff" stroke="#111" stroke-width="1.25"/>
<text x="442.4" y="460.3" font-size="12.3" stroke="#000" stroke-width="0.3" textLength="56.4" lengthAdjust="spacingAndGlyphs" fill="#000">Day +4 pd</text>
<text x="0.4" y="575.9" font-size="13.7" font-weight="bold" stroke="#000" stroke-width="0.2" textLength="9.2" lengthAdjust="spacingAndGlyphs" fill="#000">E</text>
<line x1="52.2" y1="590.3" x2="52.2" y2="695.3" stroke="#000" stroke-width="1.8"/>
<line x1="51.3" y1="694.3" x2="208.5" y2="694.3" stroke="#000" stroke-width="1.8"/>
<line x1="48.9" y1="694.3" x2="52.2" y2="694.3" stroke="#000" stroke-width="1.5"/>
<text x="44.5" y="696.93" font-size="7.3" font-weight="bold" stroke="#000" stroke-width="0.2" text-anchor="end" fill="#000">10</text>
<text x="47.5" y="694.7" font-size="4.38" font-weight="bold" stroke="#000" stroke-width="0.2" text-anchor="end" fill="#000">1</text>
<line x1="48.9" y1="673.6" x2="52.2" y2="673.6" stroke="#000" stroke-width="1.5"/>
<text x="44.5" y="676.23" font-size="7.3" font-weight="bold" stroke="#000" stroke-width="0.2" text-anchor="end" fill="#000">10</text>
<text x="47.5" y="674" font-size="4.38" font-weight="bold" stroke="#000" stroke-width="0.2" text-anchor="end" fill="#000">2</text>
<line x1="48.9" y1="652.9" x2="52.2" y2="652.9" stroke="#000" stroke-width="1.5"/>
<text x="44.5" y="655.53" font-size="7.3" font-weight="bold" stroke="#000" stroke-width="0.2" text-anchor="end" fill="#000">10</text>
<text x="47.5" y="653.3" font-size="4.38" font-weight="bold" stroke="#000" stroke-width="0.2" text-anchor="end" fill="#000">3</text>
<line x1="48.9" y1="632.2" x2="52.2" y2="632.2" stroke="#000" stroke-width="1.5"/>
<text x="44.5" y="634.83" font-size="7.3" font-weight="bold" stroke="#000" stroke-width="0.2" text-anchor="end" fill="#000">10</text>
<text x="47.5" y="632.6" font-size="4.38" font-weight="bold" stroke="#000" stroke-width="0.2" text-anchor="end" fill="#000">4</text>
<line x1="48.9" y1="611.5" x2="52.2" y2="611.5" stroke="#000" stroke-width="1.5"/>
<text x="44.5" y="614.13" font-size="7.3" font-weight="bold" stroke="#000" stroke-width="0.2" text-anchor="end" fill="#000">10</text>
<text x="47.5" y="611.9" font-size="4.38" font-weight="bold" stroke="#000" stroke-width="0.2" text-anchor="end" fill="#000">5</text>
<line x1="48.9" y1="590.8" x2="52.2" y2="590.8" stroke="#000" stroke-width="1.5"/>
<text x="44.5" y="593.43" font-size="7.3" font-weight="bold" stroke="#000" stroke-width="0.2" text-anchor="end" fill="#000">10</text>
<text x="47.5" y="591.2" font-size="4.38" font-weight="bold" stroke="#000" stroke-width="0.2" text-anchor="end" fill="#000">6</text>
<line x1="78.7" y1="694.3" x2="78.7" y2="697.5" stroke="#000" stroke-width="1.3"/>
<text x="78.7" y="705.7" font-size="7.4" font-weight="bold" stroke="#000" stroke-width="0.2" text-anchor="middle" fill="#000">4</text>
<line x1="130.5" y1="694.3" x2="130.5" y2="697.5" stroke="#000" stroke-width="1.3"/>
<text x="130.5" y="705.7" font-size="7.4" font-weight="bold" stroke="#000" stroke-width="0.2" text-anchor="middle" fill="#000">5</text>
<line x1="182.5" y1="694.3" x2="182.5" y2="697.5" stroke="#000" stroke-width="1.3"/>
<text x="182.5" y="705.7" font-size="7.4" font-weight="bold" stroke="#000" stroke-width="0.2" text-anchor="middle" fill="#000">6</text>
<text x="130.8" y="717.7" font-size="8.6" font-weight="bold" stroke="#000" stroke-width="0.2" text-anchor="middle" textLength="50.4" lengthAdjust="spacingAndGlyphs" fill="#000">Days of MLR</text>
<polyline points="78.7,642.7 130.5,633.5 182.5,622.7" fill="none" stroke="#000" stroke-width="1.45"/>
<polyline points="78.7,632.8 130.5,637.9 182.5,637.9" fill="none" stroke="#000" stroke-width="1.45" stroke-dasharray="3.5,1.6"/>
<polyline points="78.7,667.4 130.5,677 182.5,677" fill="none" stroke="#000" stroke-width="1.55" stroke-dasharray="1.8,1.4"/>
<polyline points="78.7,678.4 130.5,679.5 182.5,674.5" fill="none" stroke="#000" stroke-width="1.5" stroke-dasharray="3.4,1.4,1.8,1.4"/>
<polyline points="78.7,685.7 130.5,683 182.5,679.8" fill="none" stroke="#000" stroke-width="1.55" stroke-dasharray="1.8,1.4"/>
<rect x="76.92" y="683.92" width="3.57" height="3.57" fill="#000"/>
<rect x="128.72" y="681.22" width="3.57" height="3.57" fill="#000"/>
<rect x="180.72" y="678.01" width="3.57" height="3.57" fill="#000"/>
<circle cx="78.7" cy="678.4" r="1.87" fill="#000"/>
<circle cx="130.5" cy="679.5" r="1.87" fill="#000"/>
<circle cx="182.5" cy="674.5" r="1.87" fill="#000"/>
<polygon points="78.7,665.62 80.48,667.4 78.7,669.18 76.92,667.4" fill="#000"/>
<polygon points="130.5,675.22 132.28,677 130.5,678.78 128.72,677" fill="#000"/>
<polygon points="182.5,675.22 184.28,677 182.5,678.78 180.72,677" fill="#000"/>
<polygon points="78.7,635.15 80.78,631.24 76.62,631.24" fill="#000"/>
<polygon points="130.5,640.25 132.58,636.34 128.42,636.34" fill="#000"/>
<polygon points="182.5,640.25 184.58,636.34 180.42,636.34" fill="#000"/>
<polygon points="78.7,640.35 80.78,644.26 76.62,644.26" fill="#000"/>
<polygon points="130.5,631.15 132.58,635.06 128.42,635.06" fill="#000"/>
<polygon points="182.5,620.35 184.58,624.26 180.42,624.26" fill="#000"/>
<text x="62.7" y="600.4" font-size="9.7" stroke="#000" stroke-width="0.3" textLength="52" lengthAdjust="spacingAndGlyphs" fill="#000">Stim = ExLy</text>
<text transform="translate(29,714.4) rotate(-90)" font-size="8.3" font-weight="bold" textLength="143.7" lengthAdjust="spacingAndGlyphs"><tspan font-size="6.0" dy="-4.0">3</tspan><tspan dy="4.0">H-Thymidine Incorporation&#160; [cpm]</tspan></text>
<text x="228.2" y="576.3" font-size="13.9" font-weight="bold" stroke="#000" stroke-width="0.2" textLength="8.4" lengthAdjust="spacingAndGlyphs" fill="#000">F</text>
<line x1="274.6" y1="589.3" x2="274.6" y2="695" stroke="#000" stroke-width="1.8"/>
<line x1="273.7" y1="694" x2="431.2" y2="694" stroke="#000" stroke-width="1.8"/>
<line x1="271.3" y1="694" x2="274.6" y2="694" stroke="#000" stroke-width="1.5"/>
<text x="266.9" y="696.63" font-size="7.3" font-weight="bold" stroke="#000" stroke-width="0.2" text-anchor="end" fill="#000">10</text>
<text x="269.9" y="694.4" font-size="4.38" font-weight="bold" stroke="#000" stroke-width="0.2" text-anchor="end" fill="#000">1</text>
<line x1="271.3" y1="673.16" x2="274.6" y2="673.16" stroke="#000" stroke-width="1.5"/>
<text x="266.9" y="675.79" font-size="7.3" font-weight="bold" stroke="#000" stroke-width="0.2" text-anchor="end" fill="#000">10</text>
<text x="269.9" y="673.56" font-size="4.38" font-weight="bold" stroke="#000" stroke-width="0.2" text-anchor="end" fill="#000">2</text>
<line x1="271.3" y1="652.32" x2="274.6" y2="652.32" stroke="#000" stroke-width="1.5"/>
<text x="266.9" y="654.95" font-size="7.3" font-weight="bold" stroke="#000" stroke-width="0.2" text-anchor="end" fill="#000">10</text>
<text x="269.9" y="652.72" font-size="4.38" font-weight="bold" stroke="#000" stroke-width="0.2" text-anchor="end" fill="#000">3</text>
<line x1="271.3" y1="631.48" x2="274.6" y2="631.48" stroke="#000" stroke-width="1.5"/>
<text x="266.9" y="634.11" font-size="7.3" font-weight="bold" stroke="#000" stroke-width="0.2" text-anchor="end" fill="#000">10</text>
<text x="269.9" y="631.88" font-size="4.38" font-weight="bold" stroke="#000" stroke-width="0.2" text-anchor="end" fill="#000">4</text>
<line x1="271.3" y1="610.64" x2="274.6" y2="610.64" stroke="#000" stroke-width="1.5"/>
<text x="266.9" y="613.27" font-size="7.3" font-weight="bold" stroke="#000" stroke-width="0.2" text-anchor="end" fill="#000">10</text>
<text x="269.9" y="611.04" font-size="4.38" font-weight="bold" stroke="#000" stroke-width="0.2" text-anchor="end" fill="#000">5</text>
<line x1="271.3" y1="589.8" x2="274.6" y2="589.8" stroke="#000" stroke-width="1.5"/>
<text x="266.9" y="592.43" font-size="7.3" font-weight="bold" stroke="#000" stroke-width="0.2" text-anchor="end" fill="#000">10</text>
<text x="269.9" y="590.2" font-size="4.38" font-weight="bold" stroke="#000" stroke-width="0.2" text-anchor="end" fill="#000">6</text>
<line x1="300" y1="694" x2="300" y2="697.2" stroke="#000" stroke-width="1.3"/>
<text x="300" y="705.7" font-size="7.4" font-weight="bold" stroke="#000" stroke-width="0.2" text-anchor="middle" fill="#000">4</text>
<line x1="352.4" y1="694" x2="352.4" y2="697.2" stroke="#000" stroke-width="1.3"/>
<text x="352.4" y="705.7" font-size="7.4" font-weight="bold" stroke="#000" stroke-width="0.2" text-anchor="middle" fill="#000">5</text>
<line x1="404.8" y1="694" x2="404.8" y2="697.2" stroke="#000" stroke-width="1.3"/>
<text x="404.8" y="705.7" font-size="7.4" font-weight="bold" stroke="#000" stroke-width="0.2" text-anchor="middle" fill="#000">6</text>
<text x="352.5" y="717.4" font-size="8.6" font-weight="bold" stroke="#000" stroke-width="0.2" text-anchor="middle" textLength="51.3" lengthAdjust="spacingAndGlyphs" fill="#000">Days of MLR</text>
<polyline points="300,631.4 352.4,618.7 404.8,609.8" fill="none" stroke="#000" stroke-width="1.45"/>
<polyline points="300,619.8 352.4,612.2 404.8,614.2" fill="none" stroke="#000" stroke-width="1.45" stroke-dasharray="3.5,1.6"/>
<polyline points="300,621 352.4,612.4 404.8,609.5" fill="none" stroke="#000" stroke-width="1.55" stroke-dasharray="1.8,1.4"/>
<polyline points="300,621.8 352.4,612 404.8,609" fill="none" stroke="#000" stroke-width="1.5" stroke-dasharray="3.4,1.4,1.8,1.4"/>
<polyline points="300,684 352.4,679 404.8,675.4" fill="none" stroke="#000" stroke-width="1.55" stroke-dasharray="1.8,1.4"/>
<rect x="298.21" y="682.22" width="3.57" height="3.57" fill="#000"/>
<rect x="350.61" y="677.22" width="3.57" height="3.57" fill="#000"/>
<rect x="403.01" y="673.62" width="3.57" height="3.57" fill="#000"/>
<circle cx="300" cy="621.8" r="1.87" fill="#000"/>
<circle cx="352.4" cy="612" r="1.87" fill="#000"/>
<circle cx="404.8" cy="609" r="1.87" fill="#000"/>
<polygon points="300,619.22 301.79,621 300,622.78 298.21,621" fill="#000"/>
<polygon points="352.4,610.62 354.19,612.4 352.4,614.18 350.61,612.4" fill="#000"/>
<polygon points="404.8,607.72 406.59,609.5 404.8,611.28 403.01,609.5" fill="#000"/>
<polygon points="300,622.15 302.08,618.24 297.92,618.24" fill="#000"/>
<polygon points="352.4,614.55 354.48,610.64 350.32,610.64" fill="#000"/>
<polygon points="404.8,616.55 406.88,612.64 402.72,612.64" fill="#000"/>
<polygon points="300,629.05 302.08,632.96 297.92,632.96" fill="#000"/>
<polygon points="352.4,616.35 354.48,620.26 350.32,620.26" fill="#000"/>
<polygon points="404.8,607.45 406.88,611.36 402.72,611.36" fill="#000"/>
<text x="284.5" y="599.8" font-size="9.7" stroke="#000" stroke-width="0.3" textLength="52.5" lengthAdjust="spacingAndGlyphs" fill="#000">Stim = 3rdP</text>
<text transform="translate(250.9,714.4) rotate(-90)" font-size="8.3" font-weight="bold" textLength="144.5" lengthAdjust="spacingAndGlyphs"><tspan font-size="6.0" dy="-4.0">3</tspan><tspan dy="4.0">H-Thymidine Incorporation&#160; [cpm]</tspan></text>
<rect x="424.7" y="597.5" width="78.5" height="70.5" fill="#fff" stroke="#000" stroke-width="1.3"/>
<line x1="433.1" y1="607.8" x2="448.8" y2="607.8" stroke="#000" stroke-width="1.55"/>
<polygon points="440.95,605.18 443.28,609.55 438.62,609.55" fill="#000"/>
<text x="450.8" y="610.3" font-size="8.4" stroke="#000" stroke-width="0.3" fill="#000">Resp</text>
<line x1="433.1" y1="620.2" x2="448.8" y2="620.2" stroke="#000" stroke-width="1.55" stroke-dasharray="3.5,1.6"/>
<polygon points="440.95,622.82 443.28,618.45 438.62,618.45" fill="#000"/>
<text x="450.8" y="622.7" font-size="8.4" stroke="#000" stroke-width="0.3" fill="#000">UC</text>
<line x1="433.1" y1="632.5" x2="448.8" y2="632.5" stroke="#000" stroke-width="1.65" stroke-dasharray="1.8,1.4"/>
<polygon points="440.95,630.5 442.95,632.5 440.95,634.5 438.96,632.5" fill="#000"/>
<text x="450.8" y="635" font-size="8.4" stroke="#000" stroke-width="0.3" fill="#000">PD/<tspan font-size="6.3" dy="2.1" stroke-width="0.1">5.0TH</tspan></text>
<line x1="433.1" y1="644.8" x2="448.8" y2="644.8" stroke="#000" stroke-width="1.6" stroke-dasharray="3.4,1.4,1.8,1.4"/>
<circle cx="440.95" cy="644.8" r="2.09" fill="#000"/>
<text x="450.8" y="647.3" font-size="8.4" stroke="#000" stroke-width="0.3" fill="#000">PD/<tspan font-size="6.3" dy="2.1" stroke-width="0.1">7.5TH</tspan></text>
<line x1="433.1" y1="657.2" x2="448.8" y2="657.2" stroke="#000" stroke-width="1.65" stroke-dasharray="1.8,1.4"/>
<rect x="438.96" y="655.21" width="3.99" height="3.99" fill="#000"/>
<text x="450.8" y="659.7" font-size="8.4" stroke="#000" stroke-width="0.3" fill="#000">Stim alone</text>
</g></svg></body></html>
